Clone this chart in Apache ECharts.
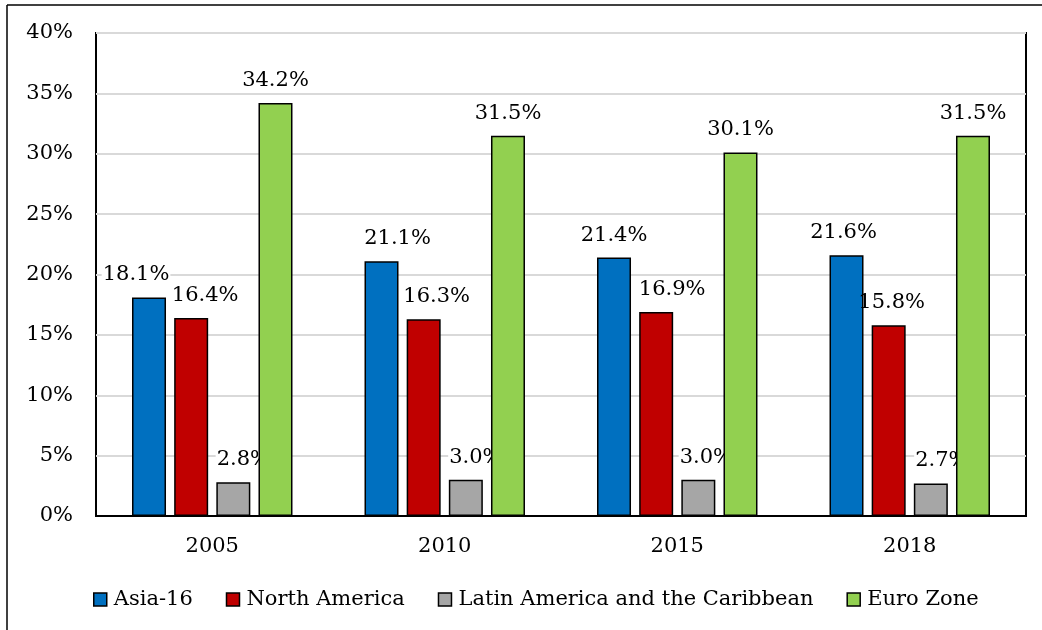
<!DOCTYPE html>
<html>
<head>
<meta charset="utf-8">
<script src="https://cdn.jsdelivr.net/npm/echarts@6/dist/echarts.min.js"></script>
<style>
html,body{margin:0;padding:0;background:#fff;}
#c{width:1042px;height:630px;}
</style>
</head>
<body>
<div id="c"></div>
<script>
const categories = ['2005', '2010', '2015', '2018'];
const seriesNames = ['Asia-16', 'North America', 'Latin America and the Caribbean', 'Euro Zone'];
const asia16 = [18.1, 21.1, 21.4, 21.6];
const northAmerica = [16.4, 16.3, 16.9, 15.8];
const latinAmerica = [2.8, 3.0, 3.0, 2.7];
const euroZone = [34.2, 31.5, 30.1, 31.5];
const yTicks = [0, 5, 10, 15, 20, 25, 30, 35, 40];

const colors = ['#0070c0', '#c00000', '#a6a6a6', '#92d050'];
// label horizontal nudges (style only)
const labelShift = [
  [-13, 16, 0, -3],
  [14, 13, 16, 3],
  [10, 10, 8, 11],
  [0, 0, 0, 0]
];
const labelBg = ['#fff', 'transparent', '#fff', '#fff'];
const FONT = 'DejaVu Serif';
const allValues = [asia16, northAmerica, latinAmerica, euroZone];

const chart = echarts.init(document.getElementById('c'), null, {renderer: 'canvas'});
const series = allValues.map((vals, si) => ({
  name: seriesNames[si],
  type: 'bar',
  z: 2 + si,
  barWidth: 34,
  barGap: '24%',
  itemStyle: {color: colors[si], borderColor: '#000', borderWidth: 1.5},
  data: vals.map((v, ci) => ({
    value: v,
    label: {offset: [labelShift[si][ci], 0]}
  })),
  label: {
    show: true,
    position: 'top',
    distance: 11,
    formatter: p => p.value.toFixed(1) + '%',
    fontFamily: FONT,
    fontSize: 21,
    color: '#000',
    backgroundColor: labelBg[si],
    padding: [1, 1]
  }
}));

chart.setOption({
  animation: false,
  backgroundColor: '#fff',
  grid: {left: 96, right: 16, top: 33, bottom: 114, show: true, borderColor: '#000', borderWidth: 2, backgroundColor: 'transparent'},
  xAxis: {
    type: 'category',
    data: categories,
    axisLine: {lineStyle: {color: '#000', width: 2}},
    axisTick: {show: false},
    axisLabel: {fontFamily: FONT, fontSize: 21, color: '#000', margin: 20}
  },
  yAxis: {
    type: 'value',
    min: yTicks[0],
    max: yTicks[yTicks.length - 1],
    interval: 5,
    axisLine: {show: false},
    axisTick: {show: false},
    splitLine: {lineStyle: {color: '#d9d9d9', width: 2}},
    axisLabel: {fontFamily: FONT, fontSize: 21, color: '#000', margin: 23, formatter: v => v + '%'}
  },
  legend: {
    left: 88,
    top: 584,
    itemWidth: 13,
    itemHeight: 13,
    itemGap: 33,
    icon: 'rect',
    textStyle: {fontFamily: FONT, fontSize: 21, color: '#000', padding: [0, 0, 0, 2]},
    data: seriesNames.map(n => ({name: n, itemStyle: {borderColor: '#000', borderWidth: 1.5}}))
  },
  graphic: [
    {type: 'line', shape: {x1: 7, y1: 5, x2: 1042, y2: 5}, style: {stroke: '#000', lineWidth: 1.5}},
    {type: 'line', shape: {x1: 7, y1: 5, x2: 7, y2: 630}, style: {stroke: '#000', lineWidth: 1.5}}
  ],
  series: series
});
</script>
</body>
</html>
